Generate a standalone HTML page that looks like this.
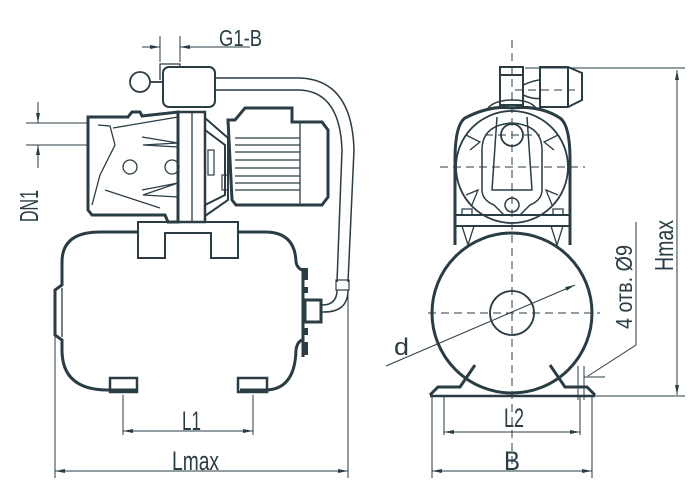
<!DOCTYPE html>
<html><head><meta charset="utf-8"><style>
html,body{margin:0;padding:0;background:#fff}
svg{display:block}
text{font-family:"Liberation Sans",sans-serif;fill:#2a3d45}
</style></head><body>
<svg width="700" height="500" viewBox="0 0 700 500" xmlns="http://www.w3.org/2000/svg">
<defs>
<marker id="a" markerWidth="10" markerHeight="6" refX="10" refY="3" orient="auto-start-reverse" markerUnits="userSpaceOnUse"><path d="M0,1 L10,3 L0,5z" fill="#2a3d45"/></marker>
</defs>
<g stroke="#2a3d45" fill="none">
<path d="M215,78 H300 Q352,80 354,150 L348,282" stroke-width="1.5"/>
<path d="M215,90 H300 Q340,92 342,150 L337,282" stroke-width="1.5"/>
<rect x="336" y="280" width="13" height="10" stroke-width="1.2"/>
<path d="M337,290 Q337,305 322,305 M348,290 Q348,313 322,312" stroke-width="1.5"/>
<path d="M100,232 H138 M238,232 H265 Q295,232 296,262 Q297,268 302,270 M302,340 Q297,342 296,350 Q295,390 265,390 H240 M137,390 H108 Q62,390 62,350 V340 L55,335 V290 L62,285 V262 Q62,232 100,232" stroke-width="3"/>
<path d="M62,288 V337" stroke-width="1.3"/>
<path d="M303,268 V357" stroke-width="3"/>
<rect x="305" y="300" width="16" height="22" stroke-width="3"/>
<path d="M306,268 V280 M306,287 V293 M306,328 V335 M306,342 V355" stroke-width="4"/>
<rect x="110" y="378" width="27" height="14" stroke-width="2.5"/>
<rect x="238" y="378" width="29" height="14" stroke-width="2.5"/>
<path d="M138,258 V222 H238 V258 H211 V233 H165 V258 Z" stroke-width="2"/>
<path d="M88,117 H128 L132,112 H140 L142,116 L178,112 V222 H168 L165,215 H92 L88,210 Z" stroke-width="3"/>
<path d="M98,125 L110,126 L115,145 L100,175 L92,205 M113,128 L178,117 M142,137 L178,143 L143,145 L178,147 M142,190 L178,183 L143,195 L178,197 M105,190 L160,208" stroke-width="1.3"/>
<circle cx="130" cy="167" r="7" stroke-width="1.3"/>
<circle cx="172" cy="167" r="7" stroke-width="1.3"/>
<rect x="178" y="112" width="27" height="110" stroke-width="2.5"/>
<path d="M192,112 V222" stroke-width="1.3"/>
<path d="M205,118 L228,138 V200 L205,216 M205,130 L225,145 V195 L205,205" stroke-width="2"/>
<rect x="208" y="150" width="6" height="25" stroke-width="1.2"/>
<rect x="222" y="175" width="6" height="15" stroke-width="1.2"/>
<path d="M228,120 H235 L245,108 H292 V122 H322 L328,130 V197 L322,205 H236 L232,200 Z" stroke-width="3"/>
<path d="M300,122 V205" stroke-width="1.3"/>
<path d="M235,138 H300 M235,145 H300 M235,152 H300 M235,160 H300 M235,168 H300 M235,176 H300 M235,183 H300 M235,190 H300" stroke-width="1.3"/>
<rect x="163" y="67" width="52" height="40" rx="6" stroke-width="2"/>
<path d="M160,80 V64 H180 V67" stroke-width="1.3"/>
<circle cx="140" cy="82" r="10" stroke-width="1.8"/>
<path d="M150,82 H163" stroke-width="1.8"/>
</g>
<g stroke="#2a3d45" stroke-width="1" fill="none">
<path d="M160,36 V62 M180,36 V62"/>
<path d="M142,47 H160" marker-end="url(#a)"/>
<path d="M250,47 H180" marker-end="url(#a)"/>
<path d="M26,123 H88 M26,145 H88"/>
<path d="M38,102 V123" marker-end="url(#a)"/>
<path d="M38,168 V145" marker-end="url(#a)"/>
<path d="M123,395 V435 M253,395 V435"/>
<path d="M123,431 H253" marker-start="url(#a)" marker-end="url(#a)"/>
<path d="M55,330 V478 M348,290 V478"/>
<path d="M55,471 H348" marker-start="url(#a)" marker-end="url(#a)"/>
</g>
<text x="219" y="46" font-size="23" textLength="43" lengthAdjust="spacingAndGlyphs">G1-B</text>
<text transform="translate(38,222) rotate(-90)" font-size="26" textLength="32" lengthAdjust="spacingAndGlyphs">DN1</text>
<text x="182" y="430" font-size="27" textLength="19" lengthAdjust="spacingAndGlyphs">L1</text>
<text x="172" y="470" font-size="27" textLength="47" lengthAdjust="spacingAndGlyphs">Lmax</text>

<g stroke="#2a3d45" fill="none">
<path d="M500,67 H523 V105 H500 Z M500,75 H523" stroke-width="2"/>
<path d="M540,67 H568 L582,73 V100 L568,107 H540 Z M568,67 V107" stroke-width="2"/>
<path d="M523,85 Q535,80 540,80 M523,95 Q535,100 540,98" stroke-width="1.5"/>
<path d="M455,245 V160 Q455,125 465,118 Q490,105 512,108 Q540,105 560,118 Q570,125 570,160 V245" stroke-width="3"/>
<path d="M488,108 Q495,100 512,100 Q530,100 536,108" stroke-width="1.5"/>
<circle cx="512" cy="167" r="56" stroke-width="1.8"/>
<path d="M482,150 Q482,125 512,123 Q542,125 542,150 V190 Q542,200 530,205 L520,215 H504 L494,205 Q482,200 482,190 Z" stroke-width="1.5"/>
<path d="M497,117 L492,190 H532 L527,117" stroke-width="1.5"/>
<path d="M466,135 L480,142 L470,150 M558,135 L544,142 L554,150 M466,195 L478,190 L472,205 M558,195 L546,190 L552,205" stroke-width="1.3"/>
<circle cx="512" cy="135" r="11" stroke-width="1.8"/>
<circle cx="512" cy="205" r="7" stroke-width="1.5"/>
<path d="M455,215 H570 M455,226 H570" stroke-width="2"/>
<path d="M462,215 V209 H472 V215 M553,215 V209 H563 V215 M462,226 L468,245 L474,226 M551,226 L557,245 L563,226" stroke-width="1.3"/>
<circle cx="512" cy="313" r="80" stroke-width="3"/>
<circle cx="512" cy="313" r="22" stroke-width="1.8"/>
<path d="M430,395 L438,387 H460 L475,365 M595,395 L587,387 H565 L550,365" stroke-width="3"/>
<path d="M430,396 H595" stroke-width="2.5"/>
</g>
<g stroke="#2a3d45" stroke-width="1" fill="none" stroke-dasharray="8,5">
<path d="M512,40 V470"/>
<path d="M440,167 H585"/>
<path d="M428,313 H600"/>
<path d="M485,135 H540 M515,90 H580"/>
</g>
<g stroke="#2a3d45" stroke-width="1" fill="none">
<path d="M386,366 L575,285" marker-end="url(#a)"/>
<path d="M636,222 V345 L588,376"/>
<path d="M578,366 V400 M584,366 V400 M584,377 H605"/>
<path d="M525,68 H685 M590,396 H685"/>
<path d="M677,70 V395" marker-start="url(#a)" marker-end="url(#a)"/>
<path d="M444,396 V435 M580,396 V435"/>
<path d="M444,432 H580" marker-start="url(#a)" marker-end="url(#a)"/>
<path d="M432,396 V478 M592,396 V478"/>
<path d="M432,471 H592" marker-start="url(#a)" marker-end="url(#a)"/>
</g>
<text x="394" y="355" font-size="24" textLength="15" lengthAdjust="spacingAndGlyphs">d</text>
<text x="504" y="427" font-size="27" textLength="20" lengthAdjust="spacingAndGlyphs">L2</text>
<text x="504" y="470" font-size="27" textLength="16" lengthAdjust="spacingAndGlyphs">B</text>
<text transform="translate(673,271) rotate(-90)" font-size="26" textLength="51" lengthAdjust="spacingAndGlyphs">Hmax</text>
<text transform="translate(632,329) rotate(-90)" font-size="23" textLength="84" lengthAdjust="spacingAndGlyphs">4 отв. Ø9</text>
</svg>
</body></html>
